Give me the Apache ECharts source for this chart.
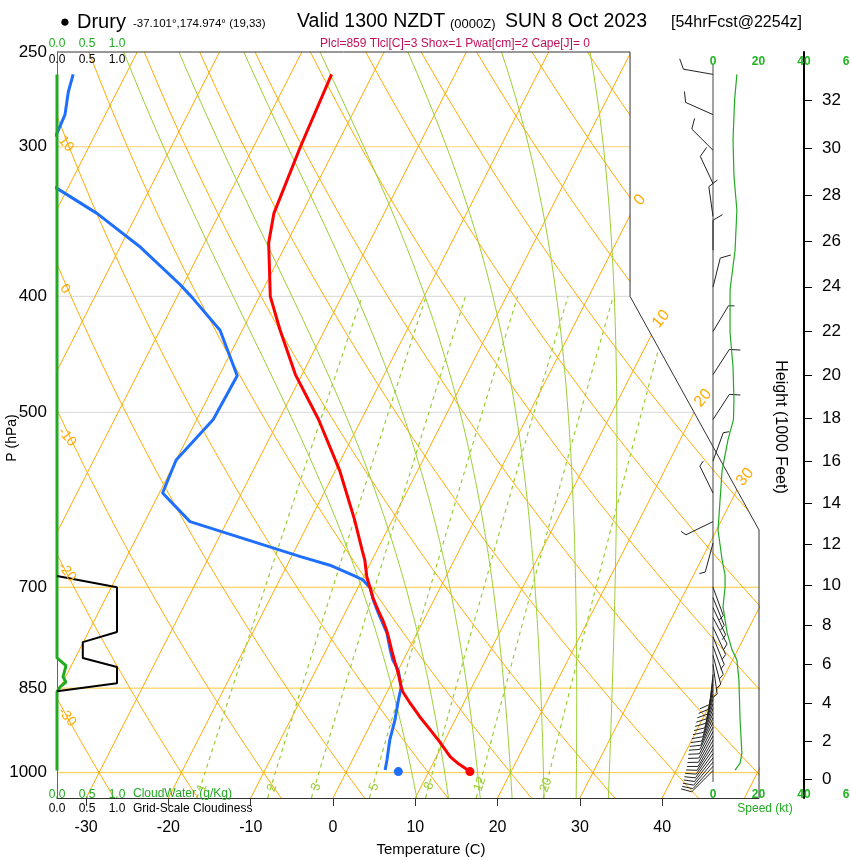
<!DOCTYPE html>
<html>
<head>
<meta charset="utf-8">
<title>Skew-T Drury</title>
<script src="https://cdn.jsdelivr.net/npm/echarts@6/dist/echarts.min.js"></script>
<style>
html,body{margin:0;padding:0;background:#ffffff;}
#chart{width:850px;height:860px;}
</style>
</head>
<body>
<div id="chart"></div>
<script>
// ===== Tick labels =====
const pressureTicks = [250, 300, 400, 500, 700, 850, 1000];
const temperatureTicks = [-30, -20, -10, 0, 10, 20, 30, 40];
const heightTicks = [0, 2, 4, 6, 8, 10, 12, 14, 16, 18, 20, 22, 24, 26, 28, 30, 32];
const speedTicks = [0, 20, 40, 60];
const cloudTicks = [0, 0.5, 1.0];

// ===== Sounding (pressure hPa, temperature C) =====
const tempPressure = [998, 982, 970, 944, 921, 898, 875, 856, 848, 826, 810, 794, 779, 763, 748, 731, 715, 701, 686, 664, 652, 615, 559, 507, 465, 427, 400, 393, 361, 341, 300, 261];
const temperature  = [15.0, 13.0, 11.7, 9.6, 7.6, 5.5, 3.5, 1.9, 1.4, 0.2, -0.8, -1.8, -2.7, -3.7, -4.8, -6.2, -7.5, -8.5, -9.6, -10.9, -11.8, -14.6, -19.5, -25.2, -30.8, -35.4, -38.7, -39.3, -42.2, -43.4, -44.3, -45.0];
const dewPressure  = [995, 976, 939, 904, 875, 848, 821, 805, 790, 764, 750, 735, 717, 701, 690, 684, 671, 660, 617, 584, 548, 507, 466, 427, 401, 391, 364, 341, 325, 310, 293, 282, 270, 261];
const dewpoint     = [4.6, 4.2, 3.3, 2.7, 2.0, 1.4, 0.0, -1.3, -2.2, -3.7, -4.8, -6.0, -7.4, -8.5, -9.9, -11.4, -14.8, -18.9, -34.5, -39.6, -40.0, -38.0, -37.8, -42.7, -48.1, -50.4, -57.5, -64.9, -71.3, -80.0, -74.7, -74.9, -75.9, -76.4];
const surfacePressure = [998];
const surfaceTemp = [15.0];
const surfaceDew = [6.3];

// ===== Cloud panel =====
const cloudPressure = [685, 700, 763, 778, 802, 816, 842, 855];
const cloudFraction = [0, 1.0, 1.0, 0.43, 0.43, 1.0, 1.0, 0];
const cloudWaterPressure = [261, 802, 814, 832, 840, 848, 856, 996];
const cloudWater = [0, 0, 0.15, 0.10, 0.15, 0.05, 0, 0];

// ===== Wind =====
const windPressure  = [261, 282, 302, 322, 343, 366, 393, 428, 465, 507, 549, 584, 617, 643,
  700, 714, 728, 742, 756, 770, 784, 798, 812,
  828, 836, 844, 852, 860, 868, 876, 884, 892, 900, 908, 916, 924, 932, 940, 948, 956, 964, 972, 980, 988, 996];
const windDirection = [280, 294, 315, 335, 352, 360, 14, 31, 33, 33, 20, 334, 244, 195,
  160, 158, 155, 152, 155, 158, 160, 165, 172,
  186, 188, 190, 192, 194, 196, 198, 200, 202, 204, 206, 207, 208, 209, 210, 212, 214, 216, 218, 220, 222, 225];
const windSpeed     = [10, 10, 10, 10, 10, 10, 10, 5, 10, 10, 5, 5, 5, 5,
  5, 5, 5, 5, 5, 5, 5, 5, 5,
  10, 10, 10, 10, 10, 10, 10, 10, 10, 10, 10, 10, 10, 10, 10, 10, 10, 10, 10, 10, 10, 10];
const speedPressure = [261, 274, 296, 317, 339, 366, 395, 429, 458, 488, 507, 527, 559, 592, 627, 664, 684, 700, 727, 764, 790, 805, 837, 904, 963, 982, 995];
const speedValue    = [10.5, 9.5, 8.8, 9.2, 10.5, 9.7, 7.5, 7.5, 8.8, 9.2, 9.0, 6.6, 4.0, 3.1, 2.2, 4.0, 5.3, 5.3, 4.4, 6.2, 8.4, 10.5, 11.4, 11.9, 12.7, 11.9, 9.7];
const staffPressure = [256, 1018];

// ===== Reference lines =====
const isobars = [300, 400, 500, 700, 850, 1000];
const isotherms = [-120, -110, -100, -90, -80, -70, -60, -50, -40, -30, -20, -10, 0, 10, 20, 30, 40, 50];
const dryAdiabats = [-30, -20, -10, 0, 10, 20, 30, 40, 50, 60, 70, 80, 90, 100, 110, 120];
const moistAdiabats = [8, 12, 16, 20, 24, 28, 32];
const mixingRatios = [1, 2, 3, 5, 8, 12, 20];

// ===== Geometry of the diagram =====
const SKEW = 32.2, PBOT = 1050, PTOP = 250;
const XMIN = -33.54, XMAX = 51.76;
const FRAME_X = 36.09, FRAME_P1 = 400, FRAME_P2 = 627;
const lp = p => Math.log(p);
const sx = (T, p) => T + SKEW * Math.log(PBOT / p);

const FONT = '"Liberation Sans", Arial, sans-serif';
const ORANGE = '#ffaa00';
const YGREEN = '#9acd32';
const GREEN = '#22aa22';

// sampling grid for the reference curves
const sampleP = [];
for (let p = PBOT; p >= PTOP; p -= 5) sampleP.push(p);

function satMix(T, p) {
  const es = 6.112 * Math.exp(17.67 * T / (T + 243.5));
  return 0.622 * es / (p - es);
}
function moistLapse(T, p) {
  const Tk = T + 273.15, rs = satMix(T, p);
  const num = 287.04 * Tk + 2.501e6 * rs;
  const den = 1005.7 + 2.501e6 * 2.501e6 * rs * 0.622 / (287.04 * Tk * Tk);
  return num / den / p;
}
function moistPath(tw) {
  const pts = [];
  let T = tw, p = 1000;
  const down = [];
  while (p < PBOT) {
    const dp = 5;
    const k1 = moistLapse(T, p);
    const k2 = moistLapse(T + k1 * dp / 2, p + dp / 2);
    T += k2 * dp; p += dp;
    down.push([T, p]);
  }
  down.reverse().forEach(d => pts.push(d));
  T = tw; p = 1000;
  pts.push([T, p]);
  while (p > PTOP) {
    const dp = -5;
    const k1 = moistLapse(T, p);
    const k2 = moistLapse(T + k1 * dp / 2, p + dp / 2);
    T += k2 * dp; p += dp;
    pts.push([T, p]);
  }
  return pts.map(([t, pp]) => [sx(t, pp), lp(pp)]);
}
function mixT(w, p) {
  const es = w * p / (622 + w);
  const l = Math.log(es / 6.112);
  return 243.5 * l / (17.67 - l);
}

const series = [];
function addLine(data, color, width, extra) {
  series.push(Object.assign({
    type: 'line', data: data, symbol: 'none', silent: true, animation: false, z: 1,
    xAxisIndex: 0, yAxisIndex: 0,
    lineStyle: { color: color, width: width }
  }, extra || {}));
}

// isobars
const isobarColor = { 300: '#ffcf70', 400: '#d6d6d6', 500: '#d6d6d6', 700: '#ffc83a', 850: '#ffc83a', 1000: '#ffc83a' };
isobars.forEach(p => addLine([[XMIN, lp(p)], [XMAX, lp(p)]], isobarColor[p], 1));
// isotherms
isotherms.forEach(T => addLine([[sx(T, PBOT), lp(PBOT)], [sx(T, PTOP), lp(PTOP)]], ORANGE, 1));
// dry adiabats
dryAdiabats.forEach(th => addLine(sampleP.map(p => [sx((th + 273.15) * Math.pow(p / 1000, 0.2857) - 273.15, p), lp(p)]), ORANGE, 1));
// moist adiabats
moistAdiabats.forEach(tw => addLine(moistPath(tw), YGREEN, 1));
// mixing ratio
mixingRatios.forEach(w => addLine(sampleP.filter(p => p >= 400).map(p => [sx(mixT(w, p), p), lp(p)]), YGREEN, 1,
  { lineStyle: { color: YGREEN, width: 1.2, type: [4, 4] } }));

// mask of the upper-right corner + frame
series.push({
  type: 'custom', xAxisIndex: 0, yAxisIndex: 0, z: 2, silent: true, animation: false,
  data: [[XMIN, lp(PTOP)]],
  renderItem: function (params, api) {
    const c = (x, p) => api.coord([x, lp(p)]);
    const a = c(FRAME_X, PTOP), b = c(XMAX, PTOP), d = c(XMAX, FRAME_P2), e = c(FRAME_X, FRAME_P1);
    const b2 = [b[0] + 2, b[1] - 2], a2 = [a[0], a[1] - 2];
    return {
      type: 'group', children: [
        { type: 'polygon', shape: { points: [a2, b2, [d[0] + 2, d[1]], d, e] }, style: { fill: '#ffffff' } },
        { type: 'polyline', shape: { points: [c(XMIN, PTOP), a, e, d, c(XMAX, PBOT)] }, style: { stroke: '#333', lineWidth: 1, fill: null } }
      ]
    };
  }
});

// sounding
series.push({ type: 'line', name: 'Dewpoint', data: dewPressure.map((p, i) => [sx(dewpoint[i], p), lp(p)]),
  symbol: 'none', z: 4, animation: false, xAxisIndex: 0, yAxisIndex: 0,
  lineStyle: { color: '#1f6fff', width: 3 } });
series.push({ type: 'line', name: 'Temperature', data: tempPressure.map((p, i) => [sx(temperature[i], p), lp(p)]),
  symbol: 'none', z: 4, animation: false, xAxisIndex: 0, yAxisIndex: 0,
  lineStyle: { color: '#ff0000', width: 3 } });
series.push({ type: 'scatter', data: surfacePressure.map((p, i) => [sx(surfaceTemp[i], p), lp(p)]), symbolSize: 9, z: 5,
  animation: false, xAxisIndex: 0, yAxisIndex: 0, itemStyle: { color: '#ff0000', borderWidth: 0, opacity: 1 } });
series.push({ type: 'scatter', data: surfacePressure.map((p, i) => [sx(surfaceDew[i], p), lp(p)]), symbolSize: 9, z: 5,
  animation: false, xAxisIndex: 0, yAxisIndex: 0, itemStyle: { color: '#1f6fff', borderWidth: 0, opacity: 1 } });

// wind panel
series.push({ type: 'line', data: staffPressure.map(p => [0, lp(p)]), symbol: 'none', z: 3, silent: true, animation: false,
  xAxisIndex: 1, yAxisIndex: 2, lineStyle: { color: '#444', width: 1 } });
series.push({ type: 'line', data: speedPressure.map((p, i) => [speedValue[i], lp(p)]), symbol: 'none', z: 4, animation: false,
  xAxisIndex: 1, yAxisIndex: 2, lineStyle: { color: GREEN, width: 1.2 } });
series.push({
  type: 'custom', xAxisIndex: 1, yAxisIndex: 2, z: 4, animation: false, silent: true,
  data: windPressure.map((p, i) => [0, lp(p), windDirection[i], windSpeed[i]]),
  encode: { x: 0, y: 1 },
  renderItem: function (params, api) {
    const pt = api.coord([api.value(0), api.value(1)]);
    const dir = api.value(2) * Math.PI / 180;
    let spd = Math.floor(api.value(3) / 5) * 5;
    const ux = Math.sin(dir), uy = -Math.cos(dir);
    const L = 30;
    const tip = [pt[0] + ux * L, pt[1] + uy * L];
    const ch = [{ type: 'line', shape: { x1: pt[0], y1: pt[1], x2: tip[0], y2: tip[1] }, style: { stroke: '#222', lineWidth: 1 } }];
    const ang = Math.atan2(uy, ux) + 60 * Math.PI / 180;
    const fx = Math.cos(ang), fy = Math.sin(ang);
    let d = 0;
    while (spd >= 10) {
      const s = [tip[0] - ux * d, tip[1] - uy * d];
      ch.push({ type: 'line', shape: { x1: s[0], y1: s[1], x2: s[0] + fx * 11, y2: s[1] + fy * 11 }, style: { stroke: '#222', lineWidth: 1 } });
      spd -= 10; d += 4;
    }
    if (spd >= 5) {
      const s = [tip[0] - ux * d, tip[1] - uy * d];
      ch.push({ type: 'line', shape: { x1: s[0], y1: s[1], x2: s[0] + fx * 6, y2: s[1] + fy * 6 }, style: { stroke: '#222', lineWidth: 1 } });
    }
    return { type: 'group', children: ch };
  }
});

// cloud panel
series.push({ type: 'line', data: cloudWaterPressure.map((p, i) => [cloudWater[i], lp(p)]), symbol: 'none', z: 4, clip: false,
  animation: false, xAxisIndex: 3, yAxisIndex: 3, lineStyle: { color: GREEN, width: 3 } });
series.push({ type: 'line', data: cloudPressure.map((p, i) => [cloudFraction[i], lp(p)]), symbol: 'none', z: 4, clip: false,
  animation: false, xAxisIndex: 5, yAxisIndex: 4, lineStyle: { color: '#000', width: 2 } });

// ===== Text labels =====
function txt(s, x, y, size, color, align, rotDeg, weight) {
  return {
    type: 'text', x: x, y: y, rotation: (rotDeg || 0) * Math.PI / 180, z: 100, silent: true,
    style: { text: s, fill: color || '#000', font: (weight || 'normal') + ' ' + size + 'px ' + FONT,
      textAlign: align || 'left', textVerticalAlign: 'middle' }
  };
}
const graphics = [
  txt('\u25CF', 65, 22, 17, '#000', 'center'),
  txt('Drury', 77, 22, 20),
  txt('-37.101\u00B0,174.974\u00B0 (19,33)', 133, 24, 11.5),
  txt('Valid 1300 NZDT', 297, 22, 19.5),
  txt('(0000Z)', 450, 24, 13),
  txt('SUN 8 Oct 2023', 505, 22, 19.5),
  txt('[54hrFcst@2254z]', 671, 23, 16),
  txt('Plcl=859 Tlcl[C]=3 Shox=1 Pwat[cm]=2 Cape[J]= 0', 455, 44, 12, '#c0105a', 'center'),
  txt('P (hPa)', 12, 438, 14, '#000', 'center', 90),
  txt('Temperature (C)', 431, 850, 15, '#000', 'center'),
  txt('Height (1000 Feet)', 780, 427, 16, '#000', 'center', -90),
  txt('CloudWater (g/Kg)', 133, 794, 12, GREEN),
  txt('Grid-Scale Cloudiness', 133, 809, 12, '#000'),
  txt('Speed (kt)', 765, 809, 12, GREEN, 'center')
];
// dry adiabat labels (left side)
[['10', 66, 144], ['0', 65, 289], ['-10', 67, 437], ['-20', 67, 572], ['-30', 67, 717]].forEach(l =>
  graphics.push(txt(l[0], l[1], l[2], 14, ORANGE, 'center', -50)));
// isotherm labels (right side)
[['0', 640, 200], ['10', 661, 319], ['20', 703, 398], ['30', 745, 477]].forEach(l =>
  graphics.push(txt(l[0], l[1], l[2], 16, ORANGE, 'center', 50)));
// mixing ratio labels (bottom)
[['1', 202, 788], ['2', 272, 788], ['3', 316, 787], ['5', 374, 787], ['8', 429, 786], ['12', 480, 784], ['20', 546, 785]].forEach(l =>
  graphics.push(txt(l[0], l[1], l[2], 13, YGREEN, 'center', 70)));

const pStd = hk => 1013.25 * Math.pow(1 - 2.25577e-5 * hk * 1000 * 0.3048, 5.25588);
const hFromLnP = v => (1 - Math.pow(Math.exp(v) / 1013.25, 1 / 5.25588)) / 2.25577e-5 / 0.3048 / 1000;

const noLine = { show: false, onZero: false };
function cloudAxis(grid, pos, inside, color, margin) {
  return {
    type: 'value', gridIndex: grid, position: pos, min: 0, max: 1, interval: 0.5, z: 6,
    axisLine: noLine, axisTick: { show: false }, splitLine: { show: false },
    axisLabel: { inside: inside, margin: margin, color: color, fontSize: 12, fontFamily: FONT,
      formatter: v => v.toFixed(1), customValues: cloudTicks }
  };
}
function speedAxis(pos, margin) {
  return {
    type: 'value', gridIndex: 1, position: pos, min: 0, max: 60, interval: 20, z: 6,
    axisLine: noLine, axisTick: { show: false }, splitLine: { show: false },
    axisLabel: { inside: true, margin: margin, color: '#1fb51f', fontSize: 12, fontWeight: 'bold', fontFamily: FONT,
      customValues: speedTicks }
  };
}
function hiddenY(grid) {
  return { type: 'value', gridIndex: grid, inverse: true, min: lp(PTOP), max: lp(PBOT), show: false, axisLine: noLine };
}

const option = {
  animation: false,
  backgroundColor: '#ffffff',
  textStyle: { fontFamily: FONT },
  grid: [
    { left: 57, top: 52, width: 702, height: 746, outerBoundsMode: 'none', containLabel: false },
    { left: 713, top: 52, width: 136.5, height: 746, outerBoundsMode: 'none', containLabel: false },
    { left: 57, top: 52, width: 60, height: 746, outerBoundsMode: 'none', containLabel: false },
    { left: 57, top: 52, width: 60, height: 746, outerBoundsMode: 'none', containLabel: false }
  ],
  xAxis: [
    {
      type: 'value', gridIndex: 0, position: 'bottom', min: XMIN, max: XMAX, z: 3,
      axisLine: { show: true, onZero: false, lineStyle: { color: '#333', width: 1 } },
      axisTick: { show: true, length: 8, customValues: temperatureTicks, lineStyle: { color: '#333' } },
      axisLabel: { customValues: temperatureTicks, fontSize: 16, color: '#000', margin: 22, fontFamily: FONT },
      splitLine: { show: false }
    },
    speedAxis('top', 4),
    speedAxis('bottom', -3),
    cloudAxis(2, 'top', false, GREEN, 2),
    cloudAxis(2, 'bottom', true, GREEN, -3),
    cloudAxis(3, 'top', true, '#000', 2),
    cloudAxis(3, 'bottom', false, '#000', 5)
  ],
  yAxis: [
    {
      type: 'value', gridIndex: 0, position: 'left', inverse: true, min: lp(PTOP), max: lp(PBOT), z: 3,
      axisLine: { show: true, onZero: false, lineStyle: { color: '#666', width: 1 } },
      axisTick: { show: false }, splitLine: { show: false },
      axisLabel: { customValues: pressureTicks.map(lp), formatter: v => String(Math.round(Math.exp(v))),
        fontSize: 17, color: '#000', margin: 10, fontFamily: FONT }
    },
    {
      type: 'value', gridIndex: 0, position: 'right', offset: 45, inverse: true, min: lp(PTOP), max: lp(PBOT), z: 3,
      axisLine: { show: true, onZero: false, lineStyle: { color: '#000', width: 2 } },
      axisTick: { show: true, length: 8, customValues: heightTicks.map(h => lp(pStd(h))), lineStyle: { color: '#000' } },
      splitLine: { show: false },
      axisLabel: { customValues: heightTicks.map(h => lp(pStd(h))), formatter: v => String(Math.round(hFromLnP(v))),
        fontSize: 17, color: '#000', margin: 18, fontFamily: FONT }
    },
    hiddenY(1), hiddenY(2), hiddenY(3)
  ],
  series: series,
  graphic: graphics
};

const chart = echarts.init(document.getElementById('chart'), null, { renderer: 'canvas', width: 850, height: 860 });
chart.setOption(option);
</script>
</body>
</html>
